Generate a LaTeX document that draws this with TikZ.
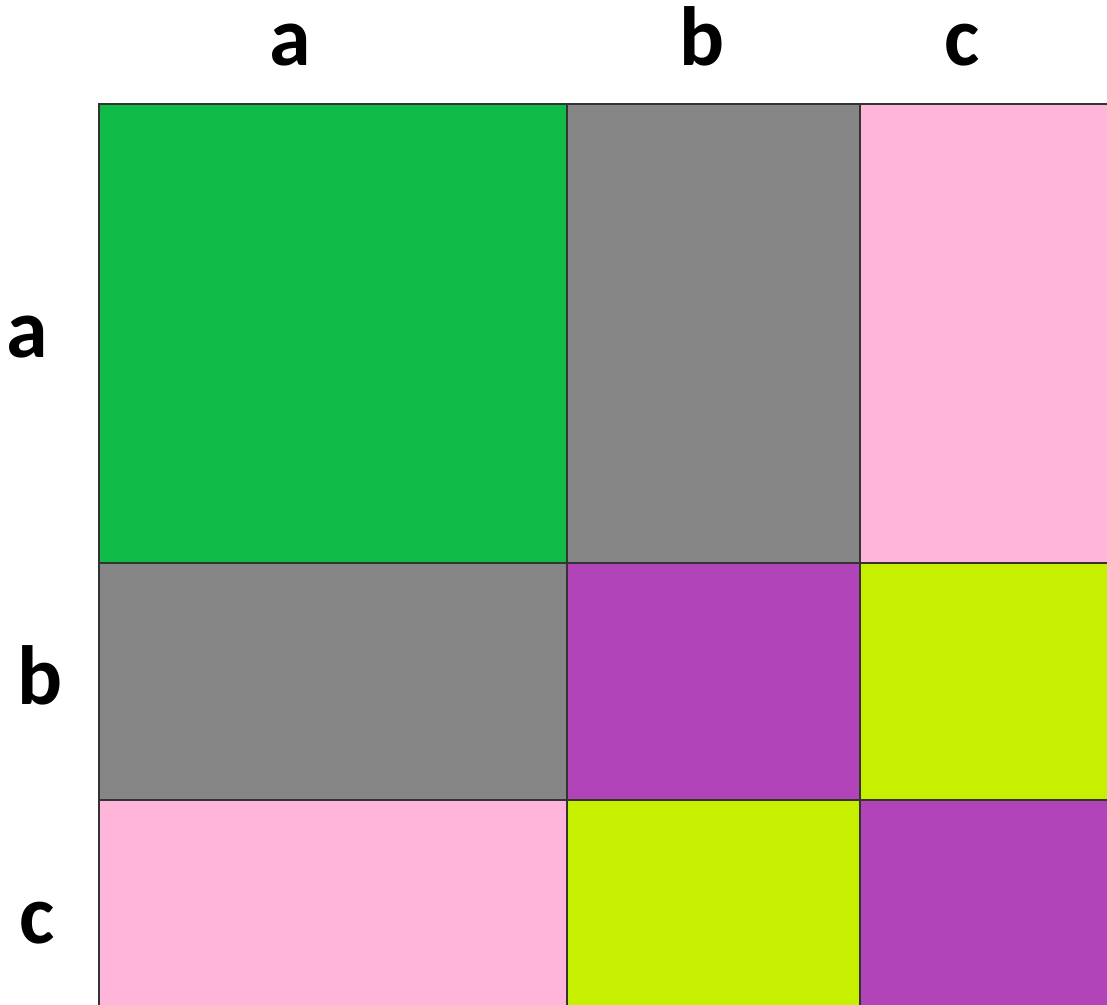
\documentclass[tikz,border=0pt]{standalone}
\usepackage{fontspec}
\setmainfont{Carlito}
\definecolor{cgreen}{RGB}{16,187,72}
\definecolor{cgray}{RGB}{134,134,134}
\definecolor{cpink}{RGB}{255,180,218}
\definecolor{cpurple}{RGB}{176,68,184}
\definecolor{clime}{RGB}{198,240,0}
\tikzset{
  cell/.style={draw=black!80, line width=1.6pt, inner sep=0pt, outer sep=0pt, anchor=north west},
  lab/.style={font=\fontsize{84}{100}\selectfont\bfseries, anchor=base, inner sep=0pt}
}
\begin{document}
\begin{tikzpicture}[x=1pt,y=-1pt]
\useasboundingbox[fill=white] (0,0) rectangle (1107,1004);
% row a
\node[cell, fill=cgreen, minimum width=468pt, minimum height=459pt] (aa) at (99,104) {};
\node[cell, fill=cgray, minimum width=293pt, minimum height=459pt] (ab) at (567,104) {};
\node[cell, fill=cpink, minimum width=254pt, minimum height=459pt] (ac) at (860,104) {};
% row b
\node[cell, fill=cgray, minimum width=468pt, minimum height=237pt] (ba) at (99,563) {};
\node[cell, fill=cpurple, minimum width=293pt, minimum height=237pt] (bb) at (567,563) {};
\node[cell, fill=clime, minimum width=254pt, minimum height=237pt] (bc) at (860,563) {};
% row c
\node[cell, fill=cpink, minimum width=468pt, minimum height=210pt] (ca) at (99,800) {};
\node[cell, fill=clime, minimum width=293pt, minimum height=210pt] (cb) at (567,800) {};
\node[cell, fill=cpurple, minimum width=254pt, minimum height=210pt] (cc) at (860,800) {};
% column labels
\node[lab] (ha) at (290,65) {a};
\node[lab] (hb) at (702,65) {b};
\node[lab] (hc) at (962,65) {c};
% row labels
\node[lab] (ra) at (27,357) {a};
\node[lab] (rb) at (40,704) {b};
\node[lab] (rc) at (37,943) {c};
\end{tikzpicture}
\end{document}
